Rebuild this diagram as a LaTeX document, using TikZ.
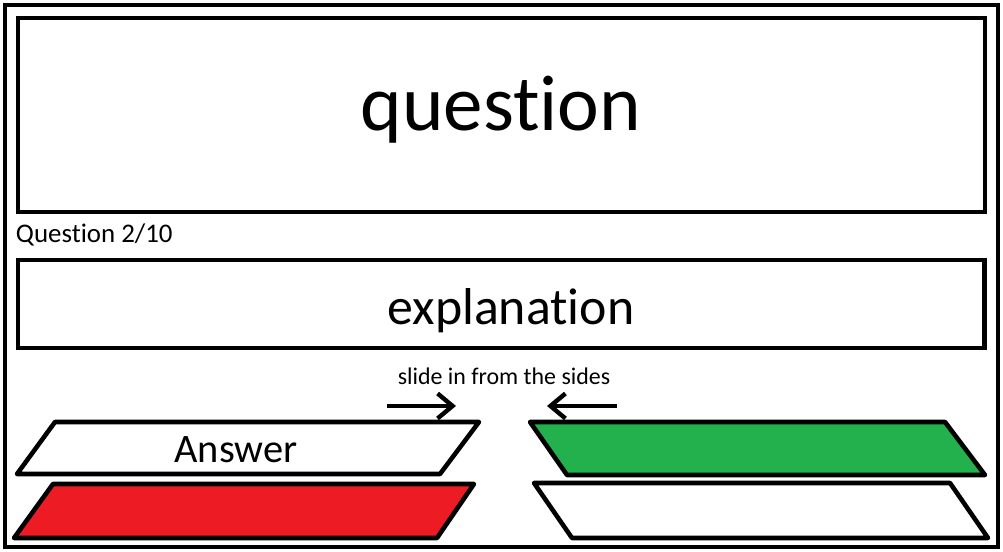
\documentclass[tikz,border=0pt]{standalone}
\usepackage{fontspec}
\setmainfont{Carlito}[Ligatures=NoCommon]
\usetikzlibrary{arrows.meta}

\definecolor{paintred}{RGB}{237,28,36}
\definecolor{paintgreen}{RGB}{34,177,76}

\tikzset{
	label text/.style={anchor=base, inner sep=0pt, text=black},
	slide arrow/.style={line width=2.5pt, -{Straight Barb[length=0.3cm, width=0.5cm]}},
	answer bar/.style={line width=2.6pt, line join=round}
}

\begin{document}
\begin{tikzpicture}[line width=2.8pt]
	\useasboundingbox (0, 0) rectangle (20.06, 11.04);

	% Frame and boxes
	\draw (0.1, 0.1) rectangle (19.96, 10.94);
	\draw (0.36, 6.8) rectangle (19.7, 10.68);
	\draw (0.36, 4.08) rectangle (19.69, 5.84);

	% Texts
	\node[label text, font=\fontsize{45}{54}\selectfont] (question) at (10.02, 8.42) {question};
	\node[label text, font=\fontsize{15.3}{18}\selectfont, anchor=base west] (counter) at (0.27, 6.18) {Question 2/10};
	\node[label text, font=\fontsize{29.5}{35}\selectfont] (explanation) at (10.22, 4.54) {explanation};
	\node[label text, font=\fontsize{13.6}{16}\selectfont] (slide) at (10.08, 3.34) {slide in from the sides};

	% Arrows
	\coordinate (leftfrom) at (7.74, 2.92);
	\coordinate (leftto) at (9.12, 2.92);
	\coordinate (rightfrom) at (12.34, 2.92);
	\coordinate (rightto) at (10.94, 2.92);
	\draw[slide arrow] (leftfrom) -- (leftto);
	\draw[slide arrow] (rightfrom) -- (rightto);

	% Answers left
	\draw[answer bar, fill=white] (1.1, 2.6) -- (9.58, 2.6) -- (8.8, 1.56) -- (0.34, 1.56) -- cycle;
	\draw[answer bar, fill=paintred] (1.06, 1.36) -- (9.48, 1.36) -- (8.74, 0.28) -- (0.28, 0.28) -- cycle;
	\node[label text, font=\fontsize{23}{27}\selectfont] (answer) at (4.72, 1.786) {Answer};

	% Answers right
	\draw[answer bar, fill=paintgreen] (10.6, 2.6) -- (18.9, 2.6) -- (19.7, 1.54) -- (11.34, 1.54) -- cycle;
	\draw[answer bar, fill=white] (10.68, 1.38) -- (19.0, 1.38) -- (19.76, 0.28) -- (11.44, 0.28) -- cycle;
\end{tikzpicture}
\end{document}
